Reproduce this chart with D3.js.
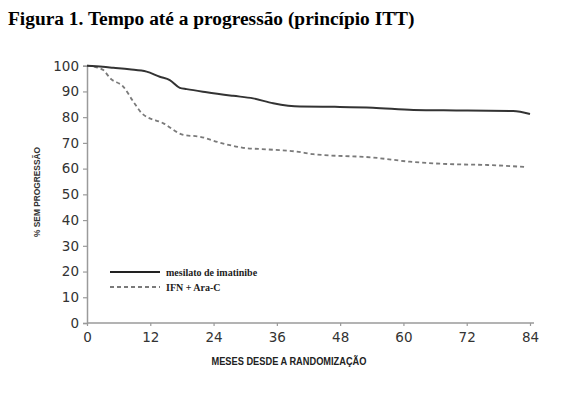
<!DOCTYPE html>
<html>
<head>
<meta charset="utf-8">
<script src="https://cdn.jsdelivr.net/npm/d3@7"></script>
<style>
  body { margin: 0; background: #fff; }
  svg { display: block; }
</style>
</head>
<body>
<script>
// survival curves (months, % without progression)
var imatMonths = [0, 3, 5, 8, 11.3, 13.8, 15.7, 17.6, 18.9, 22.7, 27.7, 31.5, 35.3, 40.4, 47, 54.2, 61.9, 70, 80.8, 84];
var imatValues = [100, 99.6, 99.2, 98.6, 97.7, 95.7, 94.4, 91.4, 90.9, 89.7, 88.3, 87.3, 85.4, 84.1, 84, 83.7, 82.8, 82.6, 82.4, 81.2];

var ifnMonths = [0, 1.5, 3.1, 4.4, 6.9, 8.8, 10.4, 14.5, 18.3, 21.4, 25.2, 29.6, 34, 39.8, 42.9, 54.3, 61.2, 68.2, 76, 83.4];
var ifnValues = [100, 99.5, 98.3, 95.1, 91.8, 86.0, 81.5, 77.6, 73.1, 72.4, 70.1, 68.1, 67.5, 66.6, 65.6, 64.3, 62.7, 61.8, 61.4, 60.6];

var xTicks = [0, 12, 24, 36, 48, 60, 72, 84];
var yTicks = [0, 10, 20, 30, 40, 50, 60, 70, 80, 90, 100];
var seriesNames = ["mesilato de imatinibe", "IFN + Ara-C"];

var svg_width = 582;
var svg_height = 394;

var svg = d3.select("body")
  .append("svg")
  .attr("width", svg_width)
  .attr("height", svg_height);

// title
svg.append("text")
  .attr("x", 8)
  .attr("y", 25)
  .style("font-family", "'Liberation Serif', 'Times New Roman', serif")
  .style("font-weight", "bold")
  .style("font-size", "19.4px")
  .attr("fill", "#000")
  .text("Figura 1. Tempo até a progressão (princípio ITT)");

var x = d3.scaleLinear().domain([0, 84]).range([87, 530]);
var y = d3.scaleLinear().domain([0, 100]).range([323, 65.7]);

var axisColor = "#9a9a9a";
var tickFont = "'DejaVu Sans', Verdana, sans-serif";

// y axis
var yAxis = svg.append("g")
  .attr("transform", "translate(" + x(0) + ",0)")
  .call(d3.axisLeft(y).tickValues(yTicks).tickSize(4).tickPadding(4));
yAxis.select(".domain").attr("stroke", axisColor).attr("stroke-width", 1.5);
yAxis.selectAll(".tick line").attr("stroke", axisColor).attr("stroke-width", 1.2);
yAxis.selectAll(".tick text")
  .style("font-family", tickFont)
  .style("font-size", "13.5px")
  .attr("fill", "#333");

// x axis
var xAxis = svg.append("g")
  .attr("transform", "translate(0," + y(0) + ")")
  .call(d3.axisBottom(x).tickValues(xTicks).tickSize(3).tickPadding(6));
xAxis.select(".domain").attr("stroke", axisColor).attr("stroke-width", 1.5)
  .attr("d", "M" + x(0) + ",0H" + (x(84) + 4));
xAxis.selectAll(".tick line").attr("stroke", axisColor).attr("stroke-width", 1.2);
xAxis.selectAll(".tick text")
  .style("font-family", tickFont)
  .style("font-size", "13.5px")
  .attr("fill", "#333");

// axis titles
svg.append("text")
  .attr("transform", "translate(40,192) rotate(-90)")
  .attr("text-anchor", "middle")
  .style("font-family", "'Liberation Sans Narrow', 'Liberation Sans', Arial, sans-serif")
  .style("font-weight", "bold")
  .style("font-size", "9.5px")
  .attr("textLength", 90)
  .attr("lengthAdjust", "spacingAndGlyphs")
  .attr("fill", "#333")
  .text("% SEM PROGRESSÃO");

svg.append("text")
  .attr("x", 289)
  .attr("y", 365)
  .attr("text-anchor", "middle")
  .style("font-family", "'Liberation Sans Narrow', 'Liberation Sans', Arial, sans-serif")
  .style("font-weight", "bold")
  .style("font-size", "10px")
  .attr("textLength", 155)
  .attr("lengthAdjust", "spacingAndGlyphs")
  .attr("fill", "#222")
  .text("MESES DESDE A RANDOMIZAÇÃO");

// curves
var line = d3.line()
  .x(function(d) { return x(d[0]); })
  .y(function(d) { return y(d[1]); })
  .curve(d3.curveMonotoneX);

var imatData = imatMonths.map(function(m, i) { return [m, imatValues[i]]; });
var ifnData = ifnMonths.map(function(m, i) { return [m, ifnValues[i]]; });

svg.append("path")
  .datum(ifnData)
  .attr("d", line)
  .attr("fill", "none")
  .attr("stroke", "#7a7a7a")
  .attr("stroke-width", 1.8)
  .attr("stroke-dasharray", "4,3");

svg.append("path")
  .datum(imatData)
  .attr("d", line)
  .attr("fill", "none")
  .attr("stroke", "#333")
  .attr("stroke-width", 2);

// legend
var legend = svg.append("g");
var legendY = [272, 287];
var legendStyle = [
  { stroke: "#222", dash: null, width: 2 },
  { stroke: "#7a7a7a", dash: "4,3", width: 1.8 }
];
seriesNames.forEach(function(name, i) {
  legend.append("line")
    .attr("x1", 110).attr("x2", 160)
    .attr("y1", legendY[i]).attr("y2", legendY[i])
    .attr("stroke", legendStyle[i].stroke)
    .attr("stroke-width", legendStyle[i].width)
    .attr("stroke-dasharray", legendStyle[i].dash);
  legend.append("text")
    .attr("x", 166)
    .attr("y", legendY[i] + 3.5)
    .style("font-family", "'Liberation Serif', 'Times New Roman', serif")
    .style("font-weight", "bold")
    .style("font-size", "10px")
    .attr("fill", "#222")
    .text(name);
});
</script>
</body>
</html>
